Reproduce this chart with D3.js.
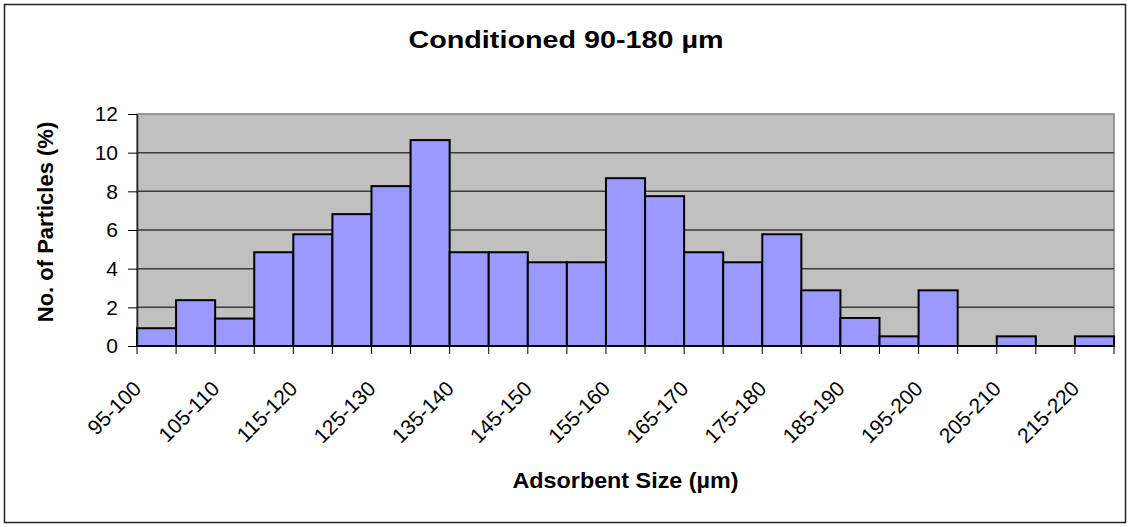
<!DOCTYPE html>
<html>
<head>
<meta charset="utf-8">
<script src="https://cdn.jsdelivr.net/npm/d3@7"></script>
<style>
  html, body { margin: 0; padding: 0; background: #fff; }
  svg { display: block; font-family: "Liberation Sans", Arial, sans-serif; }
</style>
</head>
<body>
<svg id="chart" width="1130" height="527"></svg>
<script>
// Size classes (µm) and share of particles in each class (%)
const categories = [
  "95-100", "100-105", "105-110", "110-115", "115-120", "120-125", "125-130",
  "130-135", "135-140", "140-145", "145-150", "150-155", "155-160", "160-165",
  "165-170", "170-175", "175-180", "180-185", "185-190", "190-195", "195-200",
  "200-205", "205-210", "210-215", "215-220"
];
const percentages = [
  0.92, 2.37, 1.42, 4.85, 5.78, 6.82, 8.27,
  10.65, 4.85, 4.85, 4.33, 4.33, 8.68, 7.75,
  4.85, 4.33, 5.78, 2.88, 1.45, 0.50, 2.88,
  0, 0.50, 0, 0.50
];
const yTicks = [0, 2, 4, 6, 8, 10, 12];
// only every other class gets a label
const shownLabels = categories.filter((d, i) => i % 2 === 0);

const titleText = "Conditioned 90-180 µm";
const xTitle = "Adsorbent Size (µm)";
const yTitle = "No. of Particles (%)";

const svg = d3.select("#chart");
const W = 1130, H = 527;
const plot = { left: 137, right: 1114, top: 114, bottom: 346 };

// outer chart frame
svg.append("rect")
  .attr("x", 4.5).attr("y", 4.5)
  .attr("width", W - 9).attr("height", H - 9)
  .attr("fill", "#fff").attr("stroke", "#222").attr("stroke-width", 1.5);

const x = d3.scaleBand().domain(categories).range([plot.left, plot.right]).padding(0);
const y = d3.scaleLinear().domain([0, 12]).range([plot.bottom, plot.top]);

// plot area
svg.append("rect")
  .attr("x", plot.left).attr("y", plot.top)
  .attr("width", plot.right - plot.left).attr("height", plot.bottom - plot.top)
  .attr("fill", "#c0c0c0").attr("stroke", "#808080").attr("stroke-width", 1.5);

// horizontal gridlines
svg.append("g").selectAll("line")
  .data(yTicks.filter(t => t > 0 && t < 12))
  .join("line")
  .attr("x1", plot.left).attr("x2", plot.right)
  .attr("y1", d => y(d)).attr("y2", d => y(d))
  .attr("stroke", "#3a3a3a").attr("stroke-width", 1.5);

// bars
svg.append("g").selectAll("rect")
  .data(categories.map((c, i) => ({ c, v: percentages[i] })).filter(d => d.v > 0))
  .join("rect")
  .attr("x", d => x(d.c))
  .attr("y", d => y(d.v))
  .attr("width", x.bandwidth())
  .attr("height", d => y(0) - y(d.v))
  .attr("fill", "#9999ff")
  .attr("stroke", "#000").attr("stroke-width", 2);

// y axis
const yAxis = svg.append("g")
  .attr("transform", `translate(${plot.left},0)`)
  .call(d3.axisLeft(y).tickValues(yTicks).tickSize(9).tickPadding(10).tickSizeOuter(0));
yAxis.select(".domain").attr("stroke", "#222").attr("stroke-width", 1.5);
yAxis.selectAll(".tick line").attr("stroke", "#000");
yAxis.selectAll(".tick text")
  .attr("font-size", 21).attr("fill", "#000")
  .attr("font-family", "'Liberation Sans', Arial, sans-serif");

// x axis line with tick marks on class boundaries
const boundaries = categories.map(c => x(c)).concat([x(categories[categories.length - 1]) + x.bandwidth()]);
svg.append("line")
  .attr("x1", plot.left).attr("x2", plot.right)
  .attr("y1", plot.bottom).attr("y2", plot.bottom)
  .attr("stroke", "#000").attr("stroke-width", 2);
svg.append("g").selectAll("line")
  .data(boundaries)
  .join("line")
  .attr("x1", d => d).attr("x2", d => d)
  .attr("y1", plot.bottom).attr("y2", plot.bottom + 8)
  .attr("stroke", "#000").attr("stroke-width", 1);

// rotated class labels
svg.append("g").selectAll("text")
  .data(shownLabels)
  .join("text")
  .attr("transform", d => `translate(${x(d) + x.bandwidth() / 2 - 14},390) rotate(-45)`)
  .attr("text-anchor", "end")
  .attr("font-size", 21)
  .attr("fill", "#000")
  .text(d => d);

// titles
svg.append("text")
  .attr("x", 566).attr("y", 48)
  .attr("text-anchor", "middle")
  .attr("font-size", 23).attr("font-weight", "bold")
  .attr("textLength", 315).attr("lengthAdjust", "spacingAndGlyphs")
  .text(titleText);

svg.append("text")
  .attr("x", (plot.left + plot.right) / 2).attr("y", 488)
  .attr("text-anchor", "middle")
  .attr("font-size", 22).attr("font-weight", "bold")
  .attr("textLength", 226).attr("lengthAdjust", "spacingAndGlyphs")
  .text(xTitle);

svg.append("text")
  .attr("transform", `translate(53,${(plot.top + plot.bottom) / 2 - 8}) rotate(-90)`)
  .attr("text-anchor", "middle")
  .attr("font-size", 22).attr("font-weight", "bold")
  .text(yTitle);
</script>
</body>
</html>
